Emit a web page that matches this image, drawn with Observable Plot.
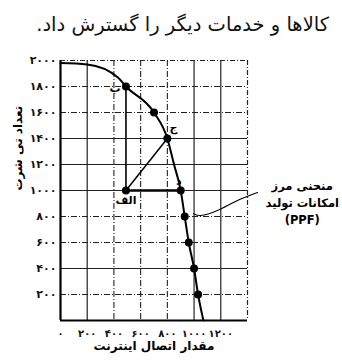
<!DOCTYPE html>
<html><head><meta charset="utf-8">
<script src="https://cdn.jsdelivr.net/npm/d3@7"></script>
<script src="https://cdn.jsdelivr.net/npm/@observablehq/plot@0.6"></script>
<style>
body{margin:0;background:#fff;width:342px;height:363px;overflow:hidden;font-family:"DejaVu Sans",sans-serif;}
#title{height:45px;direction:rtl;text-align:right;padding-right:13px;font-size:19.5px;line-height:22px;padding-top:14px;box-sizing:border-box;color:#111;white-space:nowrap;}
</style></head>
<body>
<div id="title">کالاها و خدمات دیگر را گسترش داد.</div>
<div id="chart"></div>
<script>
const xTicks = [0, 200, 400, 600, 800, 1000, 1200];
const xTickLabels = ["۰", "۲۰۰", "۴۰۰", "۶۰۰", "۸۰۰", "۱۰۰۰", "۱۲۰۰"];
const yTicks = [200, 400, 600, 800, 1000, 1200, 1400, 1600, 1800, 2000];
const yTickLabels = ["۲۰۰", "۴۰۰", "۶۰۰", "۸۰۰", "۱۰۰۰", "۱۲۰۰", "۱۴۰۰", "۱۶۰۰", "۱۸۰۰", "۲۰۰۰"];

const gridXSolid = [200, 1000, 1200];
const gridXDashed = [400, 600, 800];
const gridYSolid = [400, 1000, 1200, 1400];
const gridYDashed = [200, 600, 800, 1600, 1800];

// production possibilities frontier (internet connections, t-shirts)
const curveX = [0, 200, 430, 490, 700, 800, 850, 900, 930, 960, 1000, 1030, 1070];
const curveY = [1980, 1970, 1870, 1800, 1600, 1400, 1200, 1000, 800, 600, 400, 200, 0];

const pointX = [490, 700, 800, 900, 930, 960, 1000, 1030, 490];
const pointY = [1800, 1600, 1400, 1000, 800, 600, 400, 200, 1000];

const pointLabels = ["ب", "ج", "د", "الف"];
const labelX = [490, 800, 900, 490];
const labelY = [1800, 1400, 1000, 1000];

const leaderX = [996, 1048, 1175, 1325, 1475];
const leaderY = [823, 808, 846, 923, 985];

const annotation = "منحنی مرز\nامکانات تولید\n(PPF)";
const annX = [1810];
const annY = [915];

const xLabel = "مقدار اتصال اینترنت";
const yLabel = "تعداد تی شرت";

const curve = curveX.map((x, i) => ({x, y: curveY[i]}));
const points = pointX.map((x, i) => ({x, y: pointY[i]}));
const leader = leaderX.map((x, i) => ({x, y: leaderY[i]}));
const labels = pointLabels.map((t, i) => ({t, x: labelX[i], y: labelY[i]}));
const ann = [{t: annotation, x: annX[0], y: annY[0]}];

const labelOffsets = [[-11, 2], [6, -11], [-2, -9], [0, 10]];

const chart = Plot.plot({
  width: 342, height: 318,
  marginTop: 15, marginLeft: 60, marginRight: 95, marginBottom: 43,
  style: {fontFamily: "DejaVu Sans", color: "#111", background: "#fff", overflow: "visible"},
  x: {domain: [0, 1400]},
  y: {domain: [0, 2000]},
  marks: [
    Plot.ruleX(gridXSolid, {stroke: "#222", strokeWidth: 1.2}),
    Plot.ruleX(gridXDashed, {stroke: "#222", strokeWidth: 1.1, strokeDasharray: "6,2,1,2"}),
    Plot.ruleY(gridYSolid, {stroke: "#222", strokeWidth: 1.2}),
    Plot.ruleY(gridYDashed, {stroke: "#222", strokeWidth: 1.1, strokeDasharray: "6,2,1,2"}),
    Plot.ruleY([2000], {stroke: "#222", strokeWidth: 1, strokeDasharray: "5,2,1,2"}),
    Plot.ruleX([1400], {stroke: "#222", strokeWidth: 1.2, strokeDasharray: "5,2,1,2"}),
    Plot.ruleX([0], {stroke: "#000", strokeWidth: 2.2}),
    Plot.ruleY([0], {stroke: "#000", strokeWidth: 2.2}),
    Plot.axisX({ticks: xTicks, tickFormat: (d, i) => xTickLabels[i], tickSize: 0, tickPadding: 9, fontSize: 10, fontWeight: "bold", label: null}),
    Plot.axisY({ticks: yTicks, tickFormat: (d, i) => yTickLabels[i], tickSize: 0, tickPadding: 4, fontSize: 11, fontWeight: "bold", label: null}),
    // construction lines from الف
    Plot.link([labels[3]], {x1: "x", y1: "y", x2: () => labels[0].x, y2: () => labels[0].y, stroke: "#000", strokeWidth: 1.6}),
    Plot.link([labels[3]], {x1: "x", y1: "y", x2: () => labels[2].x, y2: () => labels[2].y, stroke: "#000", strokeWidth: 2.4}),
    Plot.link([labels[3]], {x1: "x", y1: "y", x2: () => labels[1].x, y2: () => labels[1].y, stroke: "#000", strokeWidth: 1.5}),
    Plot.line(curve, {x: "x", y: "y", curve: "monotone-x", stroke: "#000", strokeWidth: 2}),
    Plot.line(leader, {x: "x", y: "y", curve: "natural", stroke: "#000", strokeWidth: 1.1}),
    Plot.dot(points, {x: "x", y: "y", r: 4, fill: "#000"}),
    ...labels.map((d, i) => Plot.text([d], {x: "x", y: "y", text: "t", dx: labelOffsets[i][0], dy: labelOffsets[i][1], fontSize: 11, fontWeight: "bold", fill: "#000"})),
    Plot.text(ann, {x: "x", y: "y", text: "t", fontSize: 11.5, fontWeight: "bold", lineHeight: 1.45, fill: "#000"}),
    Plot.text([xLabel], {frameAnchor: "bottom", dy: 29, fontSize: 12, fontWeight: "bold", fill: "#000"}),
    Plot.text([yLabel], {frameAnchor: "left", dx: -42, rotate: -90, fontSize: 12, fontWeight: "bold", fill: "#000"})
  ]
});
document.getElementById("chart").appendChild(chart);
</script>
</body></html>
